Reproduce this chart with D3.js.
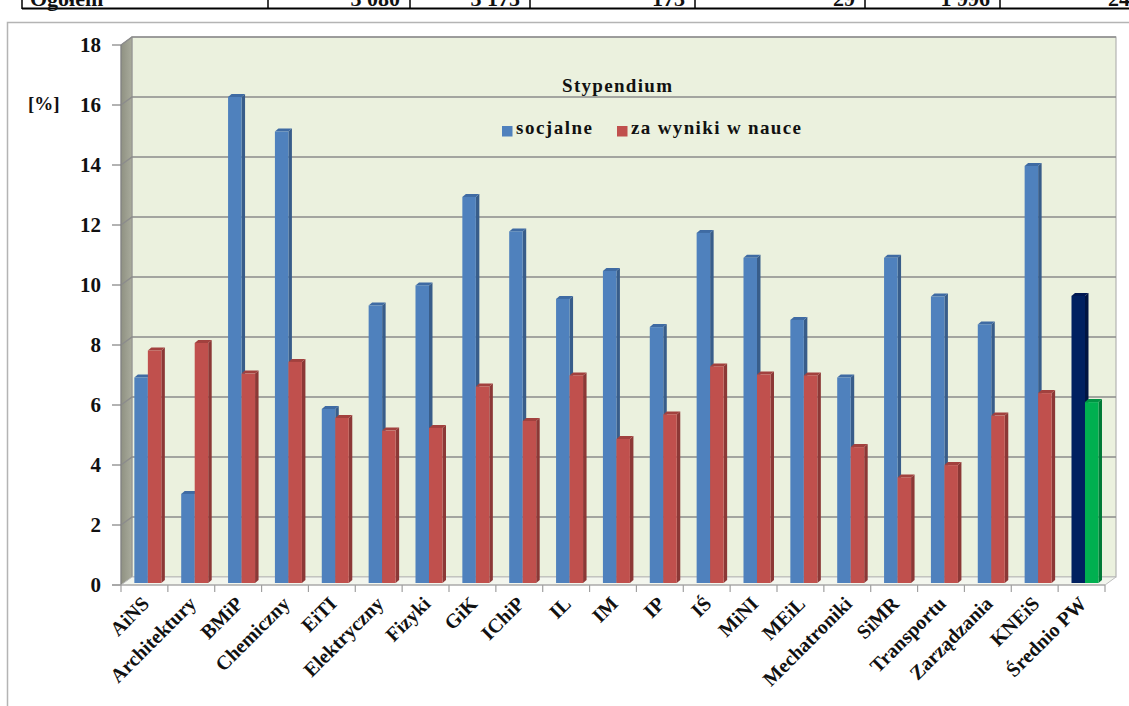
<!DOCTYPE html>
<html lang="pl">
<head>
<meta charset="utf-8">
<title>Stypendium</title>
<script src="https://cdnjs.cloudflare.com/ajax/libs/d3/7.8.5/d3.min.js"></script>
<style>
  body { margin: 0; background: #fff; }
  text { font-family: "Liberation Serif", "Times New Roman", serif; font-weight: bold; fill: #111; }
</style>
</head>
<body>
<script>
// dane
var categories = ["AiNS", "Architektury", "BMiP", "Chemiczny", "EiTI", "Elektryczny", "Fizyki", "GiK",
                  "IChiP", "IL", "IM", "IP", "IŚ", "MiNI", "MEiL", "Mechatroniki", "SiMR",
                  "Transportu", "Zarządzania", "KNEiS", "Średnio PW"];
var socjalne = [6.85, 2.97, 16.2, 15.05, 5.8, 9.25, 9.92, 12.87, 11.72, 9.47, 10.4,
                8.53, 11.67, 10.84, 8.77, 6.85, 10.84, 9.55, 8.62, 13.9, 9.57];
var zaWyniki = [7.75, 8.0, 6.98, 7.37, 5.5, 5.08, 5.17, 6.55, 5.4, 6.92, 4.8,
                5.62, 7.22, 6.95, 6.92, 4.53, 3.52, 3.93, 5.58, 6.33, 6.03];
var seriesNames = ["socjalne", "za wyniki w nauce"];
var tableCells = ["Ogółem", "3 080", "3 175", "173", "29", "1 996", "24"];

var w = 1129, h = 706;
var x0 = 121, x1 = 1105, yZero = 585, yTop = 45;
var DX = 11, DY = -8;        // glebokosc scian
var bdx = 2.75, bdy = -2;    // polozenie slupkow w glebi
var sd = 3.5, sdy = -3;      // grubosc slupka

var svg = d3.select("body").append("svg").attr("width", w).attr("height", h);

var x = d3.scaleBand().domain(categories).range([x0, x1]);
var xs = d3.scaleBand().domain(seriesNames).range([10.6, 37.6]);
var y = d3.scaleLinear().domain([0, 18]).range([yZero, yTop]);
var ticks = y.ticks(9);

// kawalek tabeli nad wykresem (ucięty u góry jak w oryginale)
var cols = [22, 268, 410, 530, 695, 865, 1000, 1140];
svg.append("line").attr("x1", 22).attr("x2", w).attr("y1", 8.5).attr("y2", 8.5)
   .attr("stroke", "#000").attr("stroke-width", 2);
cols.forEach(function(c) {
  svg.append("line").attr("x1", c).attr("x2", c).attr("y1", 0).attr("y2", 9)
     .attr("stroke", "#000").attr("stroke-width", 1.5);
});
tableCells.forEach(function(t, i) {
  svg.append("text")
     .attr("x", i == 0 ? cols[0] + 8 : cols[i + 1] - 10)
     .attr("y", 6)
     .attr("text-anchor", i == 0 ? "start" : "end")
     .attr("font-size", 22)
     .text(t);
});

// ramka obszaru wykresu
svg.append("path").attr("d", "M7.5,706 V22.5 H1129").attr("fill", "none")
   .attr("stroke", "#b4b4b4").attr("stroke-width", 1.5);

var defs = svg.append("defs");
var g1 = defs.append("linearGradient").attr("id", "side").attr("x1", 0).attr("x2", 1);
g1.append("stop").attr("offset", 0).attr("stop-color", "#8f9182");
g1.append("stop").attr("offset", 1).attr("stop-color", "#a9ab9c");

// sciana tylna
svg.append("rect")
   .attr("x", x0 + DX).attr("y", y(18) + DY)
   .attr("width", x1 - x0).attr("height", y(0) - y(18))
   .attr("fill", "#ebf1de").attr("stroke", "#a6a6a6");

// sciana boczna
svg.append("polygon")
   .attr("points", [[x0, y(18)], [x0 + DX, y(18) + DY], [x0 + DX, y(0) + DY], [x0, y(0)]].join(" "))
   .attr("fill", "url(#side)").attr("stroke", "#8a8a8a").attr("stroke-width", 0.8);

// podloga
svg.append("polygon")
   .attr("points", [[x0, y(0)], [x1, y(0)], [x1 + DX, y(0) + DY], [x0 + DX, y(0) + DY]].join(" "))
   .attr("fill", "#f3f6ee").attr("stroke", "#bdbdbd");

// linie siatki
svg.selectAll(".grid").data(ticks.filter(function(t) { return t > 0; })).enter()
   .append("path").attr("class", "grid")
   .attr("d", function(t) {
     return "M" + x0 + "," + y(t) + " L" + (x0 + DX) + "," + (y(t) + DY) + " H" + (x1 + DX);
   })
   .attr("fill", "none").attr("stroke", "#8c8c8c").attr("stroke-width", 1.4);

// os Y
svg.append("line").attr("x1", x0).attr("x2", x0).attr("y1", y(0)).attr("y2", y(18))
   .attr("stroke", "#808080");
svg.selectAll(".ytick").data(ticks).enter().append("line")
   .attr("x1", x0 - 9).attr("x2", x0).attr("y1", function(t) { return y(t); })
   .attr("y2", function(t) { return y(t); })
   .attr("stroke", "#808080").attr("stroke-width", 1.2);
svg.selectAll(".ylab").data(ticks).enter().append("text")
   .attr("x", 101).attr("y", function(t) { return y(t); })
   .attr("dy", "0.35em").attr("text-anchor", "end").attr("font-size", 21)
   .text(function(t) { return t; });
svg.append("text").attr("x", 28).attr("y", 110).attr("font-size", 19).text("[%]");

// os X
svg.append("line").attr("x1", x0 - 9).attr("x2", x1).attr("y1", yZero).attr("y2", yZero)
   .attr("stroke", "#a0a0a0").attr("stroke-width", 1.2);
svg.selectAll(".xtick").data(categories.concat(["end"])).enter().append("line")
   .attr("x1", function(c, i) { return x0 + i * x.bandwidth(); })
   .attr("x2", function(c, i) { return x0 + i * x.bandwidth(); })
   .attr("y1", yZero).attr("y2", yZero + 7)
   .attr("stroke", "#a0a0a0").attr("stroke-width", 1.2);

// slupki 3D
var colors = {
  socjalne: ["#4f81bd", "#385d8a", "#3f6ba3"],
  wyniki: ["#c0504d", "#8c3836", "#a2413e"],
  srednioS: ["#002060", "#001442", "#001852"],
  srednioW: ["#00b050", "#007a36", "#009443"]
};
var bars = [];
categories.forEach(function(c, i) {
  var last = i == categories.length - 1;
  bars.push({ cat: c, s: seriesNames[0], v: socjalne[i], col: last ? colors.srednioS : colors.socjalne });
  bars.push({ cat: c, s: seriesNames[1], v: zaWyniki[i], col: last ? colors.srednioW : colors.wyniki });
});

var bw = xs.bandwidth();
var bg = svg.selectAll(".bar").data(bars).enter().append("g").attr("class", "bar");
bg.append("polygon")
  .attr("points", function(d) {
    var bx = x(d.cat) + xs(d.s) + bdx + bw, yt = y(d.v) + bdy, yb = y(0) + bdy;
    return [[bx, yt], [bx + sd, yt + sdy], [bx + sd, yb + sdy], [bx, yb]].join(" ");
  })
  .attr("fill", function(d) { return d.col[1]; });
bg.append("polygon")
  .attr("points", function(d) {
    var bx = x(d.cat) + xs(d.s) + bdx, yt = y(d.v) + bdy;
    return [[bx, yt], [bx + sd, yt + sdy], [bx + bw + sd, yt + sdy], [bx + bw, yt]].join(" ");
  })
  .attr("fill", function(d) { return d.col[2]; });
bg.append("rect")
  .attr("x", function(d) { return x(d.cat) + xs(d.s) + bdx; })
  .attr("y", function(d) { return y(d.v) + bdy; })
  .attr("width", bw)
  .attr("height", function(d) { return y(0) - y(d.v); })
  .attr("fill", function(d) { return d.col[0]; });

// etykiety kategorii
svg.selectAll(".xlab").data(categories).enter().append("text")
   .attr("text-anchor", "end").attr("font-size", 20)
   .attr("transform", function(c) {
     return "translate(" + (x(c) + x.bandwidth() / 2 + 6) + "," + (yZero + 20) + ") rotate(-45)";
   })
   .text(function(c) { return c; });

// legenda
svg.append("text").attr("x", 617).attr("y", 92).attr("text-anchor", "middle")
   .attr("font-size", 19).attr("textLength", 110).attr("lengthAdjust", "spacing")
   .text("Stypendium");
var legX = [502, 617], legW = [76, 170];
seriesNames.forEach(function(s, i) {
  svg.append("rect").attr("x", legX[i]).attr("y", 126).attr("width", 10.5).attr("height", 10.5)
     .attr("fill", i == 0 ? colors.socjalne[0] : colors.wyniki[0]);
  svg.append("text").attr("x", legX[i] + 14).attr("y", 134).attr("font-size", 19)
     .attr("textLength", legW[i]).attr("lengthAdjust", "spacing").text(s);
});
</script>
</body>
</html>
